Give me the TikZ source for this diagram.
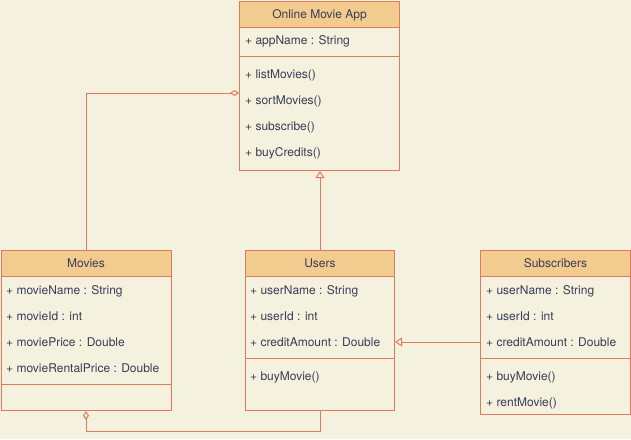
\documentclass[tikz,border=0pt]{standalone}
\usepackage{fontspec}
\setmainfont{TeX Gyre Heros}
\usetikzlibrary{arrows.meta}
\definecolor{umlline}{HTML}{E07A5F}
\definecolor{umlhead}{HTML}{F2CC8F}
\definecolor{umlpaper}{HTML}{F4F1DE}
\definecolor{umltext}{HTML}{393C56}
\newcommand\umlfont{\fontsize{12pt}{14pt}\selectfont}

\begin{document}
\begin{tikzpicture}[x=1pt,y=-1pt,
  every node/.style={font=\umlfont},
  classbox/.style 2 args={draw=umlline, fill=umlpaper, line width=1pt, anchor=north west, inner sep=0pt, minimum width=#1, minimum height=#2},
  headbox/.style={draw=umlline, fill=umlhead, line width=1pt, anchor=north west, inner sep=0pt, minimum width=#1, minimum height=26pt, text=umltext, text height=10pt, text depth=2pt},
  row/.style={anchor=west, inner sep=0pt, text=umltext, text height=10pt, text depth=2pt},
  sepline/.style={draw=umlline, line width=1pt},
  aggr/.style={draw=umlline, line width=1pt, -{Diamond[open,length=9pt,width=6pt]}},
  gen/.style={draw=umlline, line width=1pt, -{Triangle[open,length=7pt,width=9pt]}}]
\fill [umlpaper] (0,0) rectangle (631,439);
\useasboundingbox (0,0) rectangle (631,439);

\node [classbox={160pt}{169pt}] (app) at (239,1) {};
\node [headbox=160pt] (apphead) at (app.north west) {Online Movie App};
\node [row] (appname) at (245,40) {+ appName : String};
\draw [sepline] (app.west |- 0,56) -- (app.east |- 0,56);
\node [row] (listmovies) at (245,74) {+ listMovies()};
\node [row] (sortmovies) at (245,100) {+ sortMovies()};
\node [row] (subscribe) at (245,126) {+ subscribe()};
\node [row] (buycredits) at (245,152) {+ buyCredits()};

\node [classbox={170pt}{160pt}] (movies) at (0.5,250) {};
\node [headbox=170pt] (movieshead) at (movies.north west) {Movies};
\node [row] (moviename) at (6,290) {+ movieName : String};
\node [row] (movieid) at (6,316) {+ movieId : int};
\node [row] (movieprice) at (6,342) {+ moviePrice : Double};
\node [row] (movierental) at (6,368) {+ movieRentalPrice : Double};
\draw [sepline] (movies.west |- 0,384) -- (movies.east |- 0,384);

\node [classbox={149pt}{160pt}] (users) at (245,250) {};
\node [headbox=149pt] (usershead) at (users.north west) {Users};
\node [row] (username) at (250,290) {+ userName : String};
\node [row] (userid) at (250,316) {+ userId : int};
\node [row] (usercredit) at (250,342) {+ creditAmount : Double};
\draw [sepline] (users.west |- 0,358) -- (users.east |- 0,358);
\node [row] (userbuy) at (250,376) {+ buyMovie()};

\node [classbox={150pt}{164pt}] (subs) at (480,250) {};
\node [headbox=150pt] (subshead) at (subs.north west) {Subscribers};
\node [row] (subname) at (486,290) {+ userName : String};
\node [row] (subid) at (486,316) {+ userId : int};
\node [row] (subcredit) at (486,342) {+ creditAmount : Double};
\draw [sepline] (subs.west |- 0,358) -- (subs.east |- 0,358);
\node [row] (subbuy) at (486,376) {+ buyMovie()};
\node [row] (subrent) at (486,402) {+ rentMovie()};

\coordinate (appagg) at (239,93);
\draw [aggr] (movies.north) |- (appagg);
\draw [gen] (users.north) -- (users.north |- app.south);
\draw [gen] (subs.west |- subcredit.west) -- (users.east |- subcredit.west);
\draw [aggr] (users.south) -- ++(0,20) -| (movies.south);
\end{tikzpicture}
\end{document}
